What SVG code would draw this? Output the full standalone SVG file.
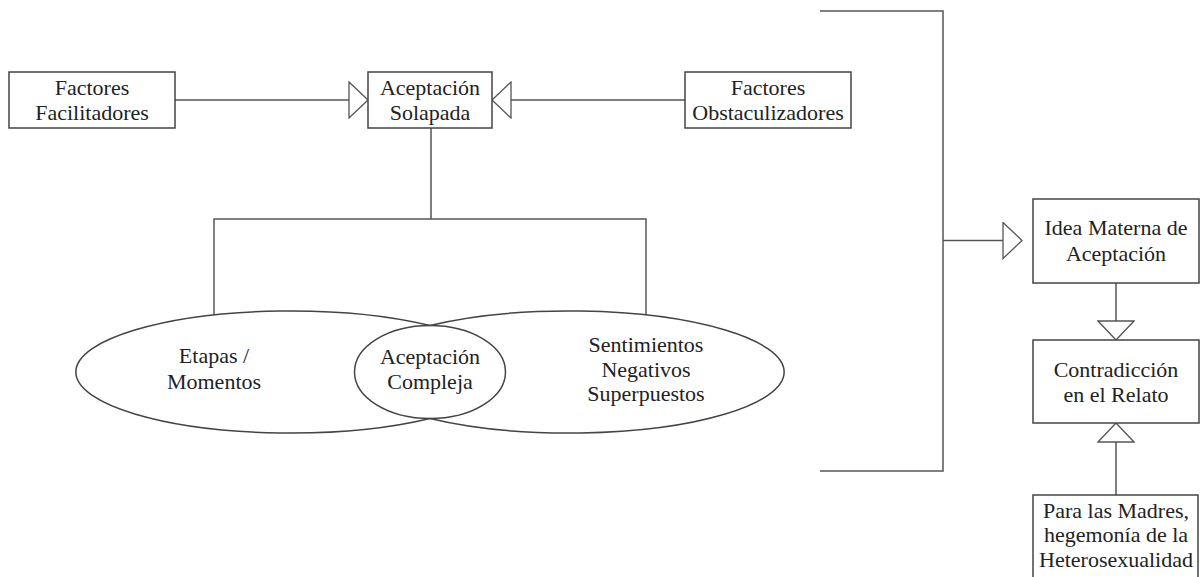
<svg xmlns="http://www.w3.org/2000/svg" width="1203" height="577" viewBox="0 0 1203 577">
<style>
.box{fill:#fff;stroke:#444;stroke-width:1.5}
.ell{fill:none;stroke:#444;stroke-width:1.5}
.ln{fill:none;stroke:#555;stroke-width:1.5}
.t{font-family:"Liberation Serif","Times New Roman","DejaVu Serif",serif;font-size:22px;fill:#222;text-anchor:middle}
</style>
<defs>
<marker id="tri" viewBox="-1 -1 21 38" refX="19" refY="18" markerWidth="21" markerHeight="38" markerUnits="userSpaceOnUse" orient="auto">
<path d="M0,0 L19,18 L0,36 Z" fill="#fff" stroke="#555" stroke-width="1.3"/>
</marker>
</defs>
<rect width="1203" height="577" fill="#fff"/>
<g id="connectors">
<path class="ln" d="M175,100 H368" marker-end="url(#tri)"/>
<path class="ln" d="M685,100 H492" marker-end="url(#tri)"/>
<path class="ln" d="M431,128 V219"/>
<path class="ln" d="M214,315 V219 H646 V315"/>
<path class="ln" d="M820,11 H943 V471 H820"/>
<path class="ln" d="M943,240.5 H1022" marker-end="url(#tri)"/>
<path class="ln" d="M1116,283 V340" marker-end="url(#tri)"/>
<path class="ln" d="M1116,495 V423" marker-end="url(#tri)"/>
</g>
<g id="facilitadores">
<rect class="box" x="9" y="72" width="166" height="56"/>
<text class="t" x="92" y="95">Factores</text>
<text class="t" x="92" y="120">Facilitadores</text>
</g>
<g id="solapada">
<rect class="box" x="368" y="72" width="124" height="56"/>
<text class="t" x="430" y="95">Aceptación</text>
<text class="t" x="430" y="120">Solapada</text>
</g>
<g id="obstaculizadores">
<rect class="box" x="685" y="72" width="166" height="56"/>
<text class="t" x="768" y="95">Factores</text>
<text class="t" x="768" y="120">Obstaculizadores</text>
</g>
<g id="etapas">
<path class="ell" d="M430,325.5 A215,61 0 1,0 430,418.5"/>
<text class="t" x="214" y="363">Etapas /</text>
<text class="t" x="214" y="389">Momentos</text>
</g>
<g id="sentimientos">
<path class="ell" d="M430,325.5 A215,61 0 1,1 430,418.5"/>
<text class="t" x="646" y="352">Sentimientos</text>
<text class="t" x="646" y="377">Negativos</text>
<text class="t" x="646" y="401">Superpuestos</text>
</g>
<g id="compleja">
<ellipse class="ell" cx="430" cy="372" rx="75.5" ry="46.5"/>
<text class="t" x="430" y="364">Aceptación</text>
<text class="t" x="430" y="389">Compleja</text>
</g>
<g id="idea">
<rect class="box" x="1033" y="199" width="166" height="84"/>
<text class="t" x="1116" y="235">Idea Materna de</text>
<text class="t" x="1116" y="261">Aceptación</text>
</g>
<g id="contradiccion">
<rect class="box" x="1033" y="340" width="166" height="83"/>
<text class="t" x="1116" y="377">Contradicción</text>
<text class="t" x="1116" y="402">en el Relato</text>
</g>
<g id="madres">
<rect class="box" x="1033" y="495" width="165" height="90"/>
<text class="t" x="1116" y="518">Para las Madres,</text>
<text class="t" x="1116" y="542">hegemonía de la</text>
<text class="t" x="1116" y="567">Heterosexualidad</text>
</g>
</svg>
